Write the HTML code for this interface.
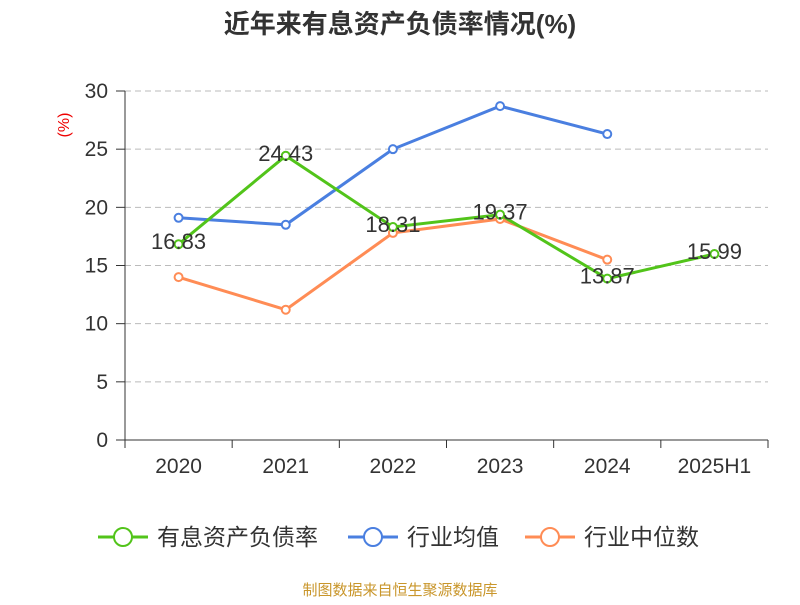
<!DOCTYPE html>
<html><head><meta charset="utf-8"><style>
body{margin:0;background:#fff;font-family:"Liberation Sans","Noto Sans CJK SC",sans-serif;}
svg text{font-family:"Liberation Sans","Noto Sans CJK SC",sans-serif;}
</style></head><body>
<svg id="c" width="800" height="600">
<text x="400" y="33" text-anchor="middle" font-size="26" font-weight="bold" fill="#333">近年来有息资产负债率情况(%)</text>
<text transform="translate(69,125) rotate(-90)" text-anchor="middle" font-size="16" fill="#e00">(%)</text>
<g id="grid"></g><g id="axes"></g><g id="series"></g>
<g>
 <g><line x1="98" y1="537" x2="148" y2="537" stroke="#52c41a" stroke-width="3"/><circle cx="123" cy="537" r="9" fill="#fff" stroke="#52c41a" stroke-width="2"/><text x="157" y="545" font-size="23" fill="#333">有息资产负债率</text></g>
 <g><line x1="348" y1="537" x2="398" y2="537" stroke="#4a7fe0" stroke-width="3"/><circle cx="373" cy="537" r="9" fill="#fff" stroke="#4a7fe0" stroke-width="2"/><text x="407" y="545" font-size="23" fill="#333">行业均值</text></g>
 <g><line x1="525" y1="537" x2="575" y2="537" stroke="#ff8c55" stroke-width="3"/><circle cx="550" cy="537" r="9" fill="#fff" stroke="#ff8c55" stroke-width="2"/><text x="584" y="545" font-size="23" fill="#333">行业中位数</text></g>
</g>
<text x="400" y="595" text-anchor="middle" font-size="15" fill="#c9962b">制图数据来自恒生聚源数据库</text>
</svg>
<script>
const categories=["2020","2021","2022","2023","2024","2025H1"];
const debtRatio=[16.83,24.43,18.31,19.37,13.87,15.99];
const industryAvg=[19.1,18.5,25.0,28.7,26.3,null];
const industryMedian=[14.0,11.2,17.8,19.0,15.5,null];
const yTicks=[0,5,10,15,20,25,30];
const NS="http://www.w3.org/2000/svg";
const L=125,R=768,T=91,B=440,yMax=30;
const bw=(R-L)/categories.length;
const xs=i=>L+bw*(i+0.5);
const ys=v=>B-(v/yMax)*(B-T);
function mk(tag,attrs,parent){const e=document.createElementNS(NS,tag);for(const k in attrs)e.setAttribute(k,attrs[k]);parent.appendChild(e);return e;}
const grid=document.getElementById('grid'),axes=document.getElementById('axes'),ser=document.getElementById('series');
yTicks.forEach(t=>{
 if(t>0){const g=mk('line',{x1:L,x2:R,y1:ys(t),y2:ys(t),stroke:'#bbb','stroke-dasharray':'6,4'},grid);
 
 }
 const tk=mk('line',{x1:L-9,x2:L,y1:ys(t),y2:ys(t),stroke:'#333'},axes);
 
 
 const tx=mk('text',{x:L-17,y:ys(t)+7,'text-anchor':'end','font-size':21,fill:'#333'},axes);tx.textContent=t;
 
 
});
const ya=mk('line',{x1:L,x2:L,y1:T,y2:B,stroke:'#333'},axes);


const xa=mk('line',{x1:L,x2:R,y1:B,y2:B,stroke:'#333'},axes);


for(let i=0;i<=categories.length;i++){const t=mk('line',{x1:L+bw*i,x2:L+bw*i,y1:B,y2:B+8,stroke:'#333'},axes);
 
 }
categories.forEach((c,i)=>{const t=mk('text',{x:xs(i),y:B+33,'text-anchor':'middle','font-size':21,fill:'#333'},axes);t.textContent=c;
 
 });
function drawSeries(vals,color,name,labels){
 const pts=vals.map((v,i)=>v==null?null:[xs(i),ys(v)]).filter(p=>p);
 const pl=mk('polyline',{points:pts.map(p=>p.join(',')).join(' '),fill:'none',stroke:color,'stroke-width':3},ser);
 
 
 vals.forEach((v,i)=>{if(v==null)return;
  const c=mk('circle',{cx:xs(i),cy:ys(v),r:4,fill:'#fff',stroke:color,'stroke-width':2},ser);
  
  
  if(labels){const t=mk('text',{x:xs(i),y:ys(v)+5,'text-anchor':'middle','font-size':22,fill:'#333'},ser);t.textContent=v.toFixed(2);
   
   }
 });
}
drawSeries(industryAvg,'#4a7fe0','industry-average',false);
drawSeries(industryMedian,'#ff8c55','industry-median',false);
drawSeries(debtRatio,'#52c41a','debt-ratio',true);
</script>
</body></html>
